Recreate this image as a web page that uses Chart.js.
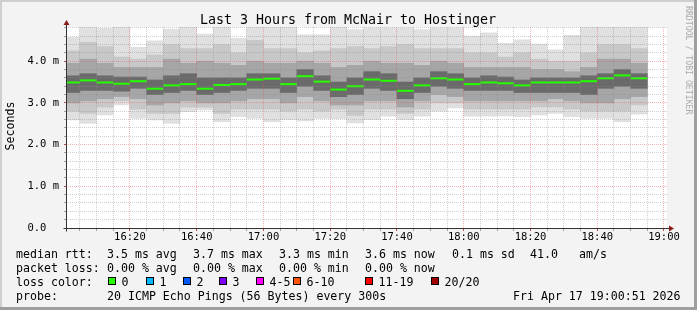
<!DOCTYPE html>
<html>
<head>
<meta charset="utf-8">
<title>SmokePing McNair to Hostinger</title>
<script src="https://cdn.jsdelivr.net/npm/chart.js@4.4.0/dist/chart.umd.min.js"></script>
<style>
  html, body { margin: 0; padding: 0; background: #f3f3f3; }
  canvas { display: block; }
</style>
</head>
<body>
<canvas id="smoke" width="697" height="310"></canvas>
<script>
// each slot covers 5 minutes, value = minutes after 16:00
const slotStart = [0, 5, 10, 15, 20, 25, 30, 35, 40, 45, 50, 55, 60, 65, 70, 75, 80, 85, 90, 95,
  100, 105, 110, 115, 120, 125, 130, 135, 140, 145, 150, 155, 160, 165, 170];

// rtt in ms
const medianRtt = [3.49, 3.54, 3.49, 3.46, 3.52, 3.34, 3.42, 3.45, 3.34, 3.43, 3.45, 3.56, 3.58, 3.45, 3.64, 3.51, 3.32, 3.40,
  3.56, 3.53, 3.29, 3.42, 3.59, 3.56, 3.45, 3.49, 3.47, 3.42, 3.49, 3.49, 3.49, 3.52, 3.59, 3.66, 3.59];
const maxRtt = [4.57, 4.85, 4.79, 4.81, 4.33, 4.49, 4.77, 4.81, 4.65, 4.81, 4.55, 4.85, 4.81, 4.81, 4.63, 4.63, 4.81, 4.76,
  4.80, 4.80, 4.80, 4.76, 4.80, 4.80, 4.60, 4.68, 4.43, 4.51, 4.41, 4.27, 4.62, 4.81, 4.85, 4.81, 4.81];
const minRtt = [2.59, 2.51, 2.71, 2.95, 2.63, 2.59, 2.51, 2.79, 2.83, 2.55, 2.67, 2.63, 2.55, 2.60, 2.57, 2.63, 2.62, 2.52,
  2.60, 2.68, 2.60, 2.68, 2.80, 2.88, 2.68, 2.68, 2.69, 2.67, 2.71, 2.75, 2.67, 2.63, 2.63, 2.55, 2.73];
// smoke bands, outer to inner
const hi1 = [4.25, 4.45, 4.35, 4.10, 4.05, 4.15, 4.40, 4.30, 4.30, 4.40, 4.20, 4.50, 4.30, 4.30, 4.20, 4.25, 4.30, 4.35,
  4.30, 4.35, 4.40, 4.30, 4.30, 4.30, 4.20, 4.20, 4.10, 4.20, 4.05, 4.00, 4.00, 4.20, 4.40, 4.40, 4.30];
const lo1 = [2.80, 2.75, 2.90, 3.05, 2.85, 2.75, 2.75, 2.90, 2.90, 2.75, 2.85, 2.85, 2.85, 2.80, 2.85, 2.80, 2.85, 2.70,
  2.85, 2.85, 2.75, 2.85, 3.00, 3.00, 2.85, 2.85, 2.85, 2.85, 2.90, 2.90, 2.85, 2.80, 2.80, 2.80, 2.95];
const hi2 = [3.95, 4.05, 3.95, 3.85, 3.85, 3.85, 4.05, 3.95, 4.00, 3.95, 3.90, 4.00, 3.95, 3.95, 4.00, 3.95, 3.85, 3.90,
  4.00, 3.95, 3.95, 3.90, 4.00, 3.95, 3.85, 3.85, 3.85, 3.85, 3.80, 3.80, 3.75, 3.85, 4.05, 4.05, 3.95];
const lo2 = [3.00, 3.05, 3.10, 3.15, 3.10, 2.95, 3.00, 3.05, 3.00, 3.00, 3.05, 3.10, 3.10, 3.00, 3.15, 3.05, 2.95, 2.95,
  3.05, 3.05, 2.90, 3.05, 3.20, 3.15, 3.05, 3.05, 3.05, 3.05, 3.05, 3.10, 3.05, 3.00, 3.00, 3.10, 3.15];
const hi3 = [3.65, 3.70, 3.65, 3.62, 3.62, 3.55, 3.65, 3.70, 3.60, 3.60, 3.60, 3.70, 3.70, 3.60, 3.80, 3.65, 3.50, 3.60,
  3.75, 3.70, 3.50, 3.60, 3.75, 3.70, 3.60, 3.65, 3.62, 3.55, 3.60, 3.60, 3.60, 3.65, 3.70, 3.80, 3.70];
const lo3 = [3.25, 3.30, 3.30, 3.28, 3.35, 3.20, 3.25, 3.30, 3.20, 3.25, 3.30, 3.35, 3.35, 3.25, 3.40, 3.30, 3.15, 3.20,
  3.35, 3.30, 3.10, 3.25, 3.40, 3.35, 3.30, 3.30, 3.30, 3.25, 3.25, 3.25, 3.25, 3.20, 3.35, 3.40, 3.35];

// axis ticks
const xMajor = [20, 40, 60, 80, 100, 120, 140, 160, 180];
const xTickLabels = ['16:20', '16:40', '17:00', '17:20', '17:40', '18:00', '18:20', '18:40', '19:00'];
const yMajor = [0, 1, 2, 3, 4];
const yTickLabels = ['0.0  ', '1.0 m', '2.0 m', '3.0 m', '4.0 m'];

// loss legend
const lossLabels = ['0', '1', '2', '3', '4-5', '6-10', '11-19', '20/20'];
const lossColors = ['#26ff00', '#00b8ff', '#0059ff', '#7e00ff', '#ff00ff', '#ff5500', '#ff0000', '#a00000'];

const mono = "'DejaVu Sans Mono', monospace";
const gridMinor = 'rgba(140,140,140,0.42)';
const gridMajor = 'rgba(225,80,80,0.42)';

function isMajor(list, v) {
  return list.some(m => Math.abs(m - v) < 1e-6);
}

const bands = [
  { lo: minRtt, hi: maxRtt, color: '#e0e0e0' },
  { lo: lo1, hi: hi1, color: '#c8c8c8' },
  { lo: lo2, hi: hi2, color: '#a6a6a6' },
  { lo: lo3, hi: hi3, color: '#6a6a6a' }
];

const datasets = [];
datasets.push({
  type: 'scatter',
  data: slotStart.map((t, i) => ({ x: t + 2.5, y: medianRtt[i] })),
  pointStyle: 'line',
  pointRadius: 8.3,
  pointHoverRadius: 8.3,
  pointBorderColor: lossColors[0],
  pointBorderWidth: 2,
  borderColor: lossColors[0],
  order: 0,
  clip: 0
});
bands.forEach((b, k) => {
  datasets.push({
    type: 'bar',
    data: slotStart.map((t, i) => ({ x: t + 2.5, y: [b.lo[i], b.hi[i]] })),
    backgroundColor: b.color,
    borderWidth: 0,
    barPercentage: 1,
    categoryPercentage: 1,
    grouped: false,
    order: 10 - k,
    clip: 0
  });
});

// legend rows: [x, text]
const legendRows = [
  { y: 257.5, items: [[16, 'median rtt:'], [107, '3.5 ms avg'], [193, '3.7 ms max'], [279, '3.3 ms min'],
    [365, '3.6 ms now'], [452, '0.1 ms sd'], [530, '41.0'], [579, 'am/s']] },
  { y: 271.5, items: [[16, 'packet loss:'], [107, '0.00 % avg'], [193, '0.00 % max'], [279, '0.00 % min'],
    [365, '0.00 % now']] },
  { y: 285.5, items: [[16, 'loss color:']] },
  { y: 299.5, items: [[16, 'probe:'], [107, '20 ICMP Echo Pings (56 Bytes) every 300s'],
    [513, 'Fri Apr 17 19:00:51 2026']] }
];
const lossBoxX = [108, 146, 183, 219, 256, 293, 365, 431];

const rrdPlugin = {
  id: 'rrdDecor',
  beforeDraw(chart) {
    const ctx = chart.ctx, a = chart.chartArea;
    ctx.save();
    ctx.fillStyle = '#f3f3f3';
    ctx.fillRect(0, 0, chart.width, chart.height);
    ctx.fillStyle = '#cfcfcf';
    ctx.fillRect(0, 0, chart.width, 2);
    ctx.fillRect(0, 0, 2, chart.height);
    ctx.fillStyle = '#9e9e9e';
    ctx.fillRect(0, chart.height - 3, chart.width, 3);
    ctx.fillRect(chart.width - 3, 0, 3, chart.height);
    ctx.fillStyle = '#ffffff';
    ctx.fillRect(a.left, a.top, a.right - a.left, a.bottom - a.top);
    ctx.restore();
  },
  afterDraw(chart) {
    const ctx = chart.ctx, a = chart.chartArea;
    ctx.save();
    // axes with arrows
    const ax = Math.round(a.left) + 0.5, ay = Math.round(a.bottom) + 0.5;
    ctx.strokeStyle = '#333333';
    ctx.lineWidth = 1;
    ctx.beginPath();
    ctx.moveTo(ax, ay + 3);
    ctx.lineTo(ax, a.top - 2);
    ctx.moveTo(ax - 3, ay);
    ctx.lineTo(a.right + 3, ay);
    ctx.stroke();
    ctx.fillStyle = '#8b1a1a';
    ctx.beginPath();
    ctx.moveTo(ax, a.top - 7);
    ctx.lineTo(ax - 3, a.top - 2);
    ctx.lineTo(ax + 3, a.top - 2);
    ctx.closePath();
    ctx.fill();
    ctx.beginPath();
    ctx.moveTo(a.right + 7, ay);
    ctx.lineTo(a.right + 2, ay - 3);
    ctx.lineTo(a.right + 2, ay + 3);
    ctx.closePath();
    ctx.fill();

    // title
    ctx.fillStyle = '#000000';
    ctx.font = '13.3px ' + mono;
    ctx.textAlign = 'center';
    ctx.textBaseline = 'alphabetic';
    ctx.fillText('Last 3 Hours from McNair to Hostinger', 348, 24);

    // y axis title
    ctx.save();
    ctx.translate(11, 126);
    ctx.rotate(-Math.PI / 2);
    ctx.font = '11.6px ' + mono;
    ctx.textBaseline = 'middle';
    ctx.fillText('Seconds', 0, 0);
    ctx.restore();

    // watermark
    ctx.save();
    ctx.translate(688, 6);
    ctx.rotate(Math.PI / 2);
    ctx.font = '8.2px ' + mono;
    ctx.fillStyle = '#aaaaaa';
    ctx.textAlign = 'left';
    ctx.textBaseline = 'middle';
    ctx.fillText('RRDTOOL / TOBI OETIKER', 0, 0);
    ctx.restore();

    // legend
    ctx.font = '11.6px ' + mono;
    ctx.textAlign = 'left';
    ctx.fillStyle = '#000000';
    legendRows.forEach(row => {
      row.items.forEach(it => ctx.fillText(it[1], it[0], row.y));
    });
    lossLabels.forEach((lab, i) => {
      const bx = lossBoxX[i];
      ctx.fillStyle = '#000000';
      ctx.fillRect(bx, 277, 8, 8);
      ctx.fillStyle = lossColors[i];
      ctx.fillRect(bx + 1, 278, 6, 6);
      ctx.fillStyle = '#000000';
      ctx.fillText(lab, bx + 13.5, 285.5);
    });
    ctx.restore();
  }
};

Chart.defaults.font.family = mono;

new Chart(document.getElementById('smoke'), {
  type: 'bar',
  data: { datasets: datasets },
  options: {
    responsive: false,
    devicePixelRatio: 1,
    animation: false,
    events: [],
    layout: { padding: { left: 0, top: 27, right: 30, bottom: 66 } },
    plugins: { legend: { display: false }, tooltip: { enabled: false }, title: { display: false } },
    scales: {
      x: {
        type: 'linear',
        min: 0.85,
        max: 180.9,
        offset: false,
        afterFit: s => { s.height = 16; },
        ticks: {
          stepSize: 5,
          includeBounds: false,
          autoSkip: false,
          maxRotation: 0,
          padding: 0,
          color: '#000000',
          font: { family: mono, size: 10.5 },
          callback: v => {
            const i = xMajor.findIndex(m => Math.abs(m - v) < 1e-6);
            return i >= 0 ? xTickLabels[i] : '';
          }
        },
        grid: {
          offset: false,
          z: 1,
          tickLength: 3,
          color: c => isMajor(xMajor, c.tick.value) ? gridMajor : gridMinor,
          tickColor: c => isMajor(xMajor, c.tick.value) ? '#b05050' : '#a0a0a0'
        },
        border: { display: false, dash: [1, 1] }
      },
      y: {
        min: 0,
        max: 4.82,
        afterFit: s => { s.width = 66; },
        ticks: {
          stepSize: 0.2,
          includeBounds: false,
          autoSkip: false,
          padding: 5,
          color: '#000000',
          font: { family: mono, size: 10.5 },
          callback: v => {
            const i = yMajor.findIndex(m => Math.abs(m - v) < 1e-6);
            return i >= 0 ? yTickLabels[i] : '';
          }
        },
        grid: {
          z: 1,
          tickLength: 2,
          color: c => isMajor(yMajor, c.tick.value) ? gridMajor : gridMinor,
          tickColor: c => isMajor(yMajor, c.tick.value) ? '#b05050' : '#a0a0a0'
        },
        border: { display: false, dash: [1, 1] }
      }
    }
  },
  plugins: [rrdPlugin]
});
</script>
</body>
</html>
